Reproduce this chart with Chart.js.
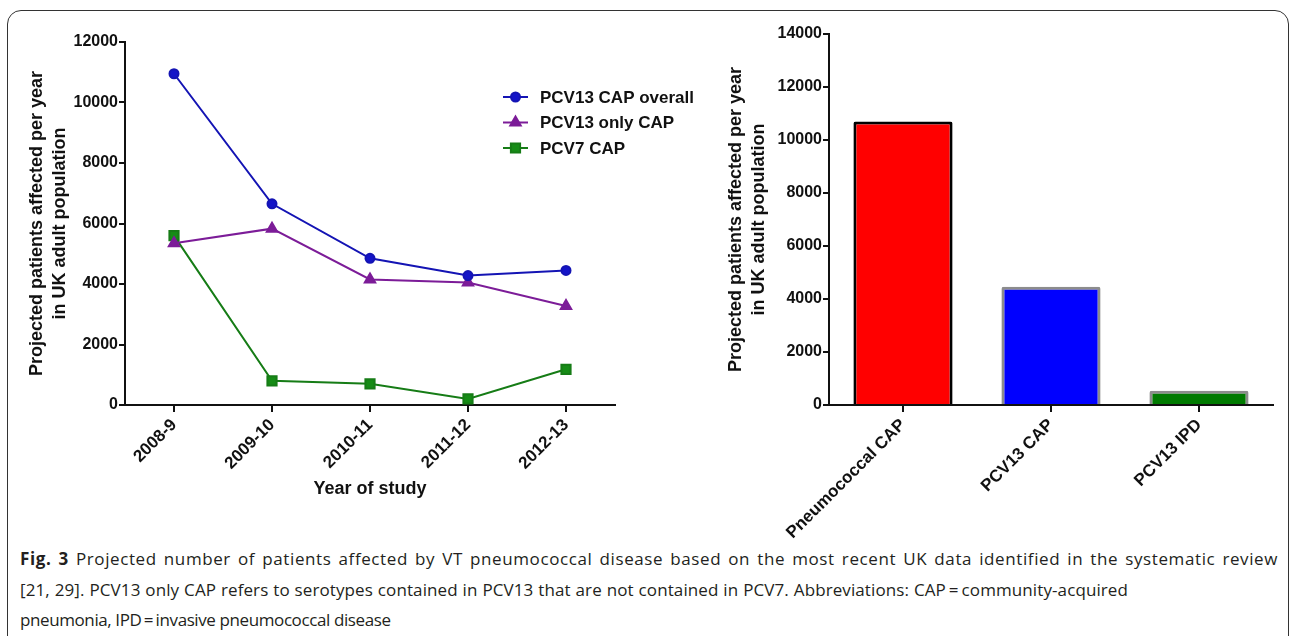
<!DOCTYPE html>
<html>
<head>
<meta charset="utf-8">
<script src="https://cdn.jsdelivr.net/npm/chart.js@4.4.1/dist/chart.umd.min.js"></script>
<style>
  html, body { margin: 0; padding: 0; background: #fff; }
  body { width: 1292px; height: 636px; position: relative; overflow: hidden; }
  .frame {
    position: absolute; left: 7px; top: 10px; width: 1282px; height: 700px;
    border: 1.5px solid #333; border-radius: 14px; box-sizing: border-box;
  }
  #lineWrap { position: absolute; left: 0; top: 0; }
  #barWrap { position: absolute; left: 700px; top: 0; }
  .cap {
    position: absolute; left: 20px; white-space: nowrap;
    font-family: "Open Sans", sans-serif; font-size: 17px; line-height: 24px; color: #231f20;
  }
  .cap.j { white-space: normal; text-align: justify; text-align-last: justify; }
  .cap b { font-weight: 700; }
</style>
</head>
<body>
<div class="frame"></div>
<div id="lineWrap"><canvas id="lineChart" width="700" height="520"></canvas></div>
<div id="barWrap"><canvas id="barChart" width="592" height="545"></canvas></div>
<div class="cap j" style="top:547px;width:1258px;letter-spacing:0.6px"><b>Fig. 3</b> Projected number of patients affected by VT pneumococcal disease based on the most recent UK data identified in the systematic review</div>
<div class="cap j" style="top:578px;width:1108px;letter-spacing:0.1px">[21, 29]. PCV13 only CAP refers to serotypes contained in PCV13 that are not contained in PCV7. Abbreviations: CAP&#8201;=&#8201;community-acquired</div>
<div class="cap" style="top:608px;letter-spacing:-0.4px">pneumonia, IPD&#8201;=&#8201;invasive pneumococcal disease</div>
<script>
// left panel: projected patients by year of study
const years = ['2008-9', '2009-10', '2010-11', '2011-12', '2012-13'];
const pcv13Overall = [10950, 6650, 4850, 4280, 4450];
const pcv13Only = [5350, 5830, 4150, 4050, 3270];
const pcv7 = [5600, 800, 700, 200, 1180];
const lineTicks = [0, 2000, 4000, 6000, 8000, 10000, 12000];

// right panel: totals
const barLabels = ['Pneumococcal CAP', 'PCV13 CAP', 'PCV13 IPD'];
const barValues = [10700, 4460, 540];
const barTicks = [0, 2000, 4000, 6000, 8000, 10000, 12000, 14000];

const FONT = '"Liberation Sans", Arial, sans-serif';
const yTitle = ['Projected patients affected per year', 'in UK adult population'];

// legend drawn as line + marker, like the original
const lineLegend = {
  id: 'lineLegend',
  afterDraw(chart) {
    const ctx = chart.ctx;
    ctx.save();
    chart.data.datasets.forEach((ds, i) => {
      const y = 97 + i * 25.5;
      ctx.strokeStyle = ds.borderColor;
      ctx.fillStyle = ds.backgroundColor;
      ctx.lineWidth = 2;
      ctx.beginPath();
      ctx.moveTo(503, y);
      ctx.lineTo(528, y);
      ctx.stroke();
      Chart.helpers.drawPoint(ctx, {
        pointStyle: ds.pointStyle,
        radius: ds.pointRadius,
        borderWidth: 1,
        rotation: 0
      }, 515.5, y);
      ctx.fillStyle = '#111';
      ctx.font = 'bold 17px ' + FONT;
      ctx.textBaseline = 'middle';
      ctx.textAlign = 'left';
      ctx.fillText(ds.label, 540, y + 1);
    });
    ctx.restore();
  }
};

function axisY(tickList, width, titlePad) {
  return {
    min: 0,
    max: tickList[tickList.length - 1],
    afterFit: (s) => { s.width = width; },
    afterBuildTicks: (s) => {
      s.ticks = tickList.map((v) => ({ value: v }));
    },
    grid: { drawOnChartArea: false, drawTicks: true, tickLength: 6, color: '#111', lineWidth: 2 },
    border: { color: '#111', width: 2 },
    ticks: {
      color: '#111', padding: 1,
      callback: (v) => String(v),
      font: { family: FONT, size: 16, weight: 'bold' }
    },
    title: {
      display: true,
      text: yTitle,
      color: '#111',
      padding: { top: titlePad, bottom: 0 },
      font: { family: FONT, size: 18, weight: 'bold', lineHeight: 1.27 }
    }
  };
}

function axisX(height, extra) {
  return Object.assign({
    offset: true,
    afterFit: (s) => { s.height = height; },
    grid: { drawOnChartArea: false, drawTicks: true, tickLength: 7, color: '#111', lineWidth: 2, offset: false },
    border: { color: '#111', width: 2 },
    ticks: {
      color: '#111', autoSkip: false, minRotation: 45, maxRotation: 45, padding: 3,
      font: { family: FONT, size: 17, weight: 'bold' }
    }
  }, extra);
}

new Chart(document.getElementById('lineChart'), {
  type: 'line',
  data: {
    labels: years,
    datasets: [
      {
        label: 'PCV13 CAP overall',
        data: pcv13Overall,
        borderColor: '#1414b4',
        backgroundColor: '#1414c8',
        pointStyle: 'circle',
        pointRadius: 4.5,
        borderWidth: 2
      },
      {
        label: 'PCV13 only CAP',
        data: pcv13Only,
        borderColor: '#7c1c98',
        backgroundColor: '#7c1c98',
        pointStyle: 'triangle',
        pointRadius: 6,
        borderWidth: 2
      },
      {
        label: 'PCV7 CAP',
        data: pcv7,
        borderColor: '#167c16',
        backgroundColor: '#168c16',
        pointStyle: 'rect',
        pointRadius: 6.5,
        borderWidth: 2
      }
    ]
  },
  options: {
    responsive: false,
    animation: false,
    layout: { padding: { left: 0, top: 42, right: 85, bottom: 0 } },
    plugins: { legend: { display: false }, tooltip: { enabled: false } },
    elements: { line: { tension: 0 }, point: { borderWidth: 1 } },
    scales: {
      x: axisX(115, {
        title: {
          display: true,
          text: 'Year of study',
          color: '#111',
          padding: { top: 0, bottom: 20 },
          font: { family: FONT, size: 18, weight: 'bold' }
        }
      }),
      y: axisY(lineTicks, 125, 26)
    }
  },
  plugins: [lineLegend]
});

new Chart(document.getElementById('barChart'), {
  type: 'bar',
  data: {
    labels: barLabels,
    datasets: [
      {
        data: barValues,
        backgroundColor: ['#ff0000', '#0000ff', '#007a00'],
        borderColor: ['#000000', '#8c8c8c', '#8c8c8c'],
        borderWidth: 3,
        borderRadius: 2,
        borderSkipped: 'bottom',
        categoryPercentage: 1,
        barPercentage: 0.67
      }
    ]
  },
  options: {
    responsive: false,
    animation: false,
    layout: { padding: { left: 0, top: 34, right: 19, bottom: 0 } },
    plugins: { legend: { display: false }, tooltip: { enabled: false } },
    scales: {
      x: axisX(140, {}),
      y: axisY(barTicks, 129, 25)
    }
  }
});
</script>
</body>
</html>
